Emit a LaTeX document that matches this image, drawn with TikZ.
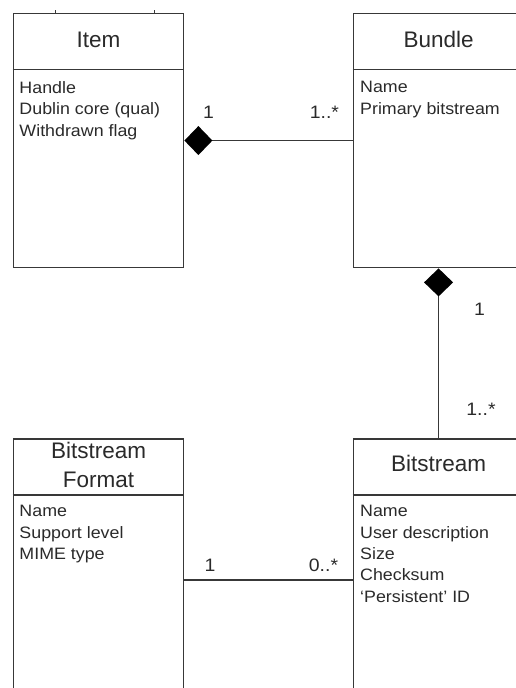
\documentclass[tikz,border=0pt]{standalone}
\usepackage{fontspec}
\setmainfont{Liberation Sans}
\newfontfamily\attrfont[FakeStretch=1.08]{Liberation Sans}
\usetikzlibrary{arrows.meta}
\definecolor{umlline}{HTML}{383838}
\definecolor{umltext}{HTML}{2A2A2A}
\tikzset{
  classbox/.style={draw=umlline, line width=1.7pt, minimum width=170pt, inner sep=0pt, anchor=north west},
  classname/.style={font=\fontsize{22.5}{29.4}\selectfont, text=umltext, align=center, inner sep=0pt},
  attrs/.style={font=\attrfont\fontsize{16.5}{21.3}\selectfont, text=umltext, align=left, inner sep=0pt, anchor=north west},
  mult/.style={font=\attrfont\fontsize{18}{20}\selectfont, text=umltext, inner sep=0pt, anchor=base},
  assoc/.style={draw=umlline, line width=1.6pt},
  owns/.style={assoc, {Diamond[length=28pt, width=29pt, color=black, line width=0pt]}-}
}

\begin{document}
\begin{tikzpicture}[x=1pt, y=-1pt]
  \useasboundingbox (0,0) rectangle (516,688);
  \clip (0,0) rectangle (516,688);
  % classes
  \node[classbox, minimum height=254pt] (item) at (12.7,12.7) {};
  \node[classbox, minimum height=254pt] (bundle) at (352.7,12.7) {};
  \node[classbox, minimum height=282pt] (fmt) at (12.7,438.3) {};
  \node[classbox, minimum height=282pt] (bits) at (352.7,438.3) {};
  \foreach \c in {item, bundle, fmt, bits}
    \draw[assoc] ([yshift=-56.6pt]\c.north west) -- ([yshift=-56.6pt]\c.north east);
  \node[classname, anchor=base] (itemname) at ([yshift=-34.6pt]item.north) {Item};
  \node[classname, anchor=base] (bundlename) at ([yshift=-34.6pt]bundle.north) {Bundle};
  \node[classname, anchor=base] (bitsname) at ([yshift=-33.4pt]bits.north) {Bitstream};
  \node[classname] (fmtname) at ([yshift=-26.5pt]fmt.north) {Bitstream\\Format};
  \node[attrs] (itemattr) at ([xshift=6.6pt, yshift=-68.6pt]item.north west) {Handle\\Dublin core (qual)\\Withdrawn flag};
  \node[attrs] (bundleattr) at ([xshift=7.3pt, yshift=-68.6pt]bundle.north west) {Name\\Primary bitstream};
  \node[attrs] (fmtattr) at ([xshift=6.6pt, yshift=-67pt]fmt.north west) {Name\\Support level\\MIME type};
  \node[attrs] (bitsattr) at ([xshift=7.3pt, yshift=-67pt]bits.north west) {Name\\User description\\Size\\Checksum\\‘Persistent’ ID};
  % stubs on the top edge
  \coordinate (stubA) at (55,10);
  \coordinate (stubB) at (154.3,10);
  \draw[assoc, line width=1pt] (stubA) -- (stubA |- item.north);
  \draw[assoc, line width=1pt] (stubB) -- (stubB |- item.north);
  % associations
  \draw[owns] (item.east) -- (bundle.west);
  \draw[owns] (bundle.south) -- (bits.north);
  \draw[assoc] (fmt.east) -- (bits.west);
  \node[mult] (itemone) at (208.5,118.3) {1};
  \node[mult] (bundlemany) at (324.4,118.3) {1..*};
  \node[mult] (bundleone) at (479.5,315) {1};
  \node[mult] (bitsmany) at (481,415) {1..*};
  \node[mult] (fmtone) at (210,571.7) {1};
  \node[mult] (fmtmany) at (323.5,571.7) {0..*};
\end{tikzpicture}
\end{document}
